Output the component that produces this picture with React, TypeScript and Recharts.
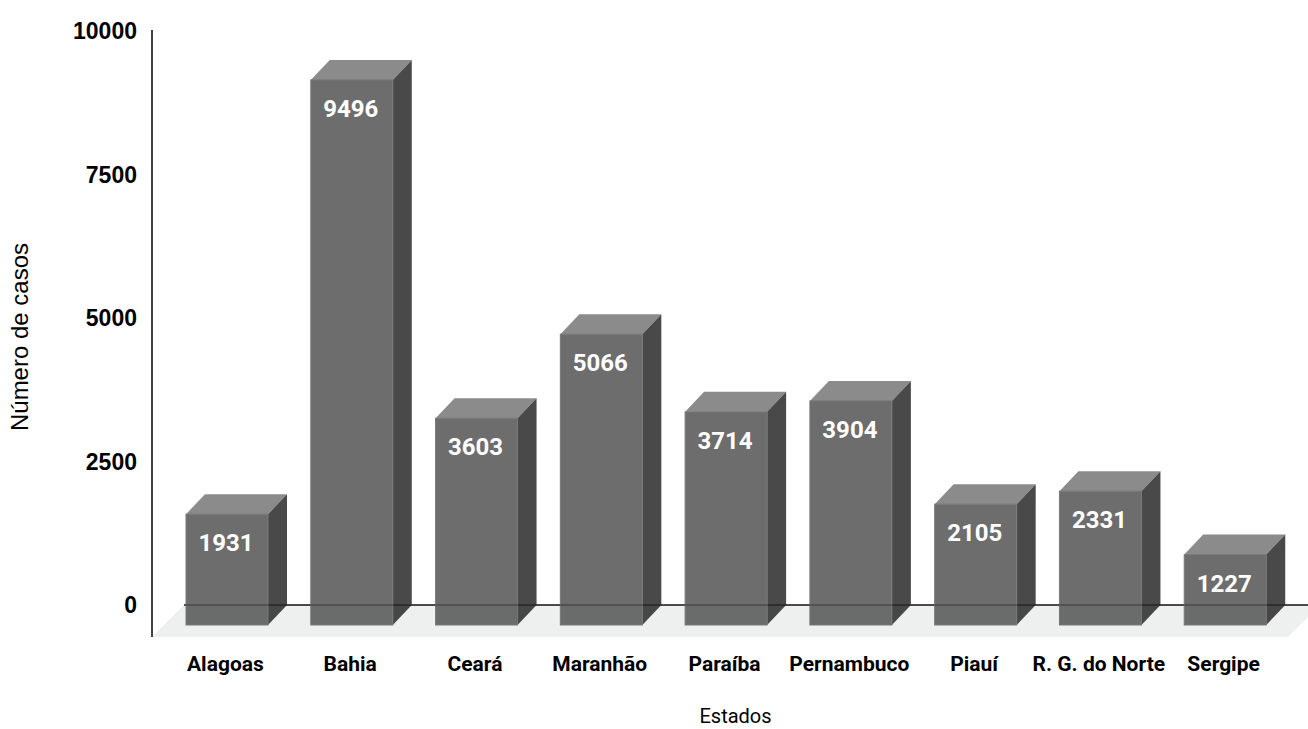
import React from "react";
import {
  Bar,
  BarChart,
  LabelList,
  ReferenceArea,
  XAxis,
  YAxis,
} from "recharts";

const estados = [
  "Alagoas",
  "Bahia",
  "Ceará",
  "Maranhão",
  "Paraíba",
  "Pernambuco",
  "Piauí",
  "R. G. do Norte",
  "Sergipe",
];
const casos = [1931, 9496, 3603, 5066, 3714, 3904, 2105, 2331, 1227];
const yTicks = [0, 2500, 5000, 7500, 10000];

const chartData = estados.map((nome, i) => ({ nome, casos: casos[i] }));

// depth of the fake 3D bars and of the floor
const DX = 19;
const DY = 20;
const FLOOR = 32;

const Box3D = (props: any) => {
  const { x, y, width, height } = props;
  if (height <= 0) return null;
  const fx = x - DX;
  const fy = y + DY;
  return (
    <g opacity={0.85}>
      <polygon
        points={`${fx},${fy} ${x},${y} ${x + width},${y} ${fx + width},${fy}`}
        fill="#777777"
      />
      <polygon
        points={`${fx + width},${fy} ${x + width},${y} ${x + width},${y + height} ${fx + width},${fy + height}`}
        fill="#2a2a2a"
      />
      <rect
        x={fx}
        y={fy}
        width={width}
        height={height}
        fill="#545454"
        stroke="#626262"
        strokeWidth={1}
      />
    </g>
  );
};

const Floor = (props: any) => {
  const { x, y, width, height } = props;
  const y0 = y + height;
  const xr = x + width + 13;
  return (
    <g>
      <polygon
        points={`${x},${y0} ${xr},${y0} ${xr - FLOOR},${y0 + FLOOR} ${x - FLOOR},${y0 + FLOOR}`}
        fill="#eef0ef"
      />
      <line x1={x} x2={xr} y1={y0} y2={y0} stroke="#111" strokeWidth={1.5} />
      <line
        x1={x - FLOOR}
        x2={x - FLOOR}
        y1={y - 1}
        y2={y0 + FLOOR}
        stroke="#000"
        strokeWidth={1.5}
      />
    </g>
  );
};

const XTick = (props: any) => {
  const { x, y, payload } = props;
  return (
    <text
      x={x - DX - 2}
      y={y + 64}
      textAnchor="middle"
      fontFamily="Roboto"
      fontWeight={700}
      fontSize={21}
      fill="#000"
    >
      {payload.value}
    </text>
  );
};

const ValueLabel = (props: any) => {
  const { x, y, width, value } = props;
  return (
    <text
      x={x - DX + width / 2 - 1}
      y={y + DY + 37}
      textAnchor="middle"
      fontFamily="Roboto"
      fontWeight={700}
      fontSize={24}
      fill="#fff"
    >
      {value}
    </text>
  );
};

export default function App() {
  return (
    <div style={{ position: "absolute", left: 0, top: 0 }}>
      <BarChart
        width={1308}
        height={729}
        data={chartData}
        margin={{ top: 31, right: 1, left: 0, bottom: 0 }}
      >
        <ReferenceArea y1={0} y2={10000} shape={<Floor />} />
        <XAxis
          dataKey="nome"
          height={124}
          axisLine={false}
          tickLine={false}
          tickSize={0}
          interval={0}
          tick={<XTick />}
          label={{
            content: (p: any) => (
              <text
                x={p.viewBox.x + p.viewBox.width / 2 - 10}
                y={723}
                textAnchor="middle"
                fontFamily="Roboto"
                fontSize={20}
                fill="#000"
              >
                Estados
              </text>
            ),
          }}
        />
        <YAxis
          width={184}
          domain={[0, 10000]}
          ticks={yTicks}
          axisLine={false}
          tickLine={false}
          tickSize={0}
          tickMargin={47}
          tick={{
            fontFamily: "Liberation Sans",
            fontWeight: 700,
            fontSize: 23,
            fill: "#000",
          }}
          label={{
            content: (p: any) => {
              const cx = p.viewBox.x + 28;
              const cy = p.viewBox.y + p.viewBox.height / 2 + 19;
              return (
                <text
                  x={cx}
                  y={cy}
                  transform={`rotate(-90 ${cx} ${cy})`}
                  textAnchor="middle"
                  fontFamily="Liberation Sans"
                  fontSize={24}
                  fill="#000"
                >
                  Número de casos
                </text>
              );
            },
          }}
        />
        <Bar
          dataKey="casos"
          barSize={82}
          shape={<Box3D />}
          isAnimationActive={false}
        >
          <LabelList dataKey="casos" content={<ValueLabel />} />
        </Bar>
      </BarChart>
    </div>
  );
}
